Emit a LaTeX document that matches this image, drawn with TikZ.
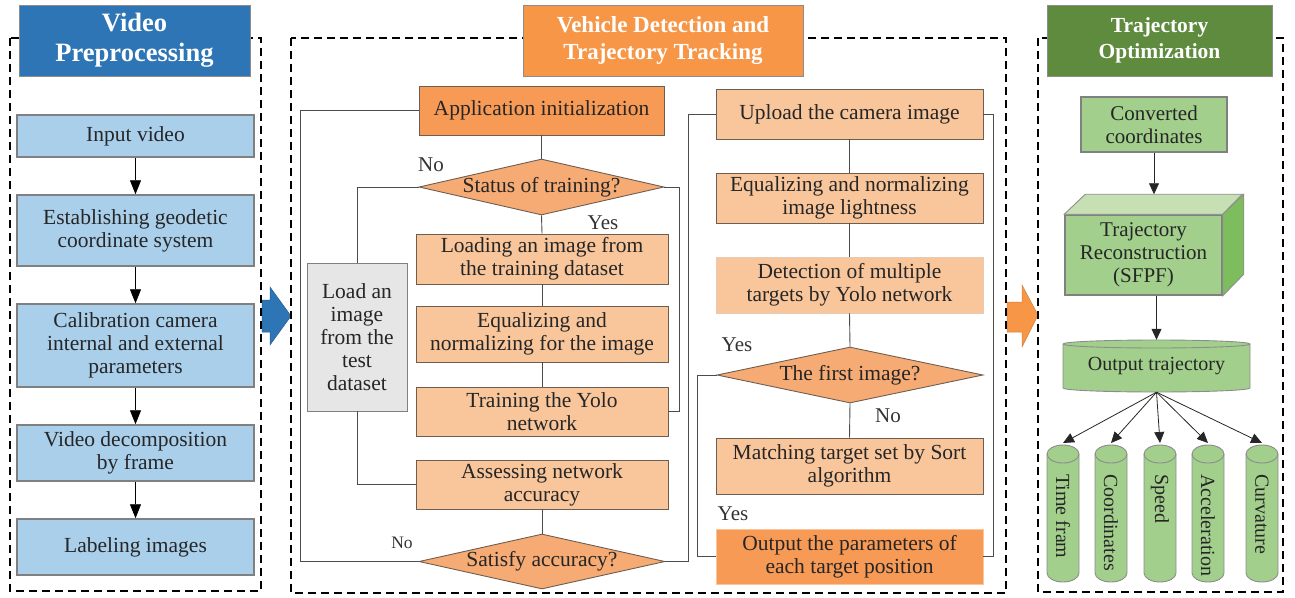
\documentclass[tikz,border=0pt]{standalone}
\usepackage{fontspec}
\setmainfont{Liberation Serif}
\usetikzlibrary{calc,arrows.meta,shapes.geometric}

\definecolor{vpblue}{HTML}{2E75B6}
\definecolor{preblue}{HTML}{AACFEB}
\definecolor{titleorange}{HTML}{F79646}
\definecolor{darkorange}{HTML}{F79A55}
\definecolor{midorange}{HTML}{F5AB73}
\definecolor{lightorange}{HTML}{F9C69C}
\definecolor{boxline}{HTML}{6E5E52}
\definecolor{testgray}{HTML}{E6E6E6}
\definecolor{optgreen}{HTML}{5E8B3E}
\definecolor{lightgreen}{HTML}{A2CF8C}
\definecolor{topgreen}{HTML}{C6E0B4}
\definecolor{sidegreen}{HTML}{7DBD5E}

\tikzset{
	panel/.style={draw=black, line width=1.8pt, dash pattern=on 8pt off 5pt},
	titlebox/.style={draw=black!45, line width=1pt, text=white, align=center, inner sep=0pt, minimum height=71pt},
	prebox/.style={draw=black!50, line width=1.5pt, fill=preblue, minimum width=237pt, inner sep=0pt, align=center, text=black!85, font=\fontsize{21.5}{23}\selectfont},
	flowbox/.style={draw=boxline, line width=0.9pt, fill=lightorange, inner sep=0pt, align=center, text=black!85, font=\fontsize{21.5}{23}\selectfont},
	decision/.style={diamond, draw=boxline, line width=0.9pt, fill=midorange, inner sep=0pt},
	dtext/.style={text=black!85, font=\fontsize{21.5}{23}\selectfont},
	yesno/.style={text=black!80, font=\fontsize{21}{23}\selectfont},
	link/.style={draw=black!70, line width=0.9pt},
	arr/.style={-{Triangle[length=14pt,width=11pt]}, line width=0.9pt},
	rarr/.style={-{Triangle[length=11pt,width=10pt]}, line width=0.8pt, black!85},
	greenbox/.style={draw=black!50, line width=1.5pt, fill=lightgreen, inner sep=0pt, align=center, text=black!85, font=\fontsize{21}{23}\selectfont},
	cylbody/.style={draw=black!45, line width=0.9pt, fill=lightgreen},
	cyltext/.style={rotate=-90, anchor=west, inner sep=0pt, text=black!85, font=\fontsize{20}{22}\selectfont}
}

% upright cylinder: x centre, name of its top, text
\newcommand{\vcyl}[3]{%
	\draw[cylbody] (#1-16,454) -- (#1-16,573) arc (180:0:16 and 9) -- (#1+16,454) arc (360:180:16 and 9) -- cycle;
	\draw[cylbody] (#1-16,454) arc (180:0:16 and 9);
	\coordinate (#2) at (#1,443);
	\node[cyltext] at (#1,474) {#3};
}

\begin{document}
\begin{tikzpicture}[x=1pt,y=-1pt]
		%%%%% START %%%%%
		\useasboundingbox (0,0) rectangle (1295,597);
		
		% block arrows between the stages
		\draw[fill=vpblue, draw=vpblue!80!black, line width=0.5pt] (262,300) -- (270,300) -- (270,287) -- (291,316) -- (270,345) -- (270,332) -- (262,332) -- cycle;
		\draw[fill=titleorange, draw=titleorange!85!black, line width=0.5pt] (1007,302) -- (1022,302) -- (1022,285) -- (1038,315) -- (1022,347) -- (1022,332) -- (1007,332) -- cycle;
		
		\draw[panel] (10,38) rectangle (261,591);
		\draw[panel] (291,38) rectangle (1006,593);
		\draw[panel] (1038,38) rectangle (1283,592);
		
		\node[titlebox, fill=vpblue, minimum width=231pt, font=\bfseries\fontsize{26.5}{30}\selectfont] (vptitle) at (134.5,40.5) {Video\\Preprocessing};
		\node[titlebox, fill=titleorange, minimum width=280pt, font=\bfseries\fontsize{23}{27}\selectfont] (dttitle) at (663,40.5) {Vehicle Detection and\\Trajectory Tracking};
		\node[titlebox, fill=optgreen, minimum width=225pt, font=\bfseries\fontsize{21.5}{26}\selectfont] (optitle) at (1159.5,40.5) {Trajectory\\Optimization};
		
		%%%%% VIDEO PREPROCESSING %%%%%
		\node[prebox, minimum height=42pt] (input) at (135.5,136) {Input video};
		\node[prebox, minimum height=71pt] (geodetic) at (135.5,230.5) {Establishing geodetic\\coordinate system};
		\node[prebox, minimum height=83pt] (calib) at (135.5,345.5) {Calibration camera\\internal and external\\parameters};
		\node[prebox, minimum height=56pt] (decomp) at (135.5,453) {Video decomposition\\by frame};
		\node[prebox, minimum height=56pt] (labeling) at (135.5,547) {Labeling images};
		
		\draw[arr] (input) -- (geodetic);
		\draw[arr] (geodetic) -- (calib);
		\draw[arr] (calib) -- (decomp);
		\draw[arr] (decomp) -- (labeling);
		
		%%%%% TRAINING %%%%%
		\node[flowbox, fill=darkorange, minimum width=245pt, minimum height=49pt] (appinit) at (541.5,110.5) {Application initialization};
		\node[decision, minimum width=245pt, minimum height=56pt] (status) at (541.5,187) {};
		\node[dtext] at (status) {Status of training?};
		\node[flowbox, minimum width=252pt, minimum height=50pt] (loading) at (542,259) {Loading an image from\\the training dataset};
		\node[flowbox, minimum width=252pt, minimum height=56pt] (equalimg) at (542,334) {Equalizing and\\normalizing for the image};
		\node[flowbox, minimum width=252pt, minimum height=49pt] (training) at (542,411.5) {Training the Yolo\\network};
		\node[flowbox, minimum width=252pt, minimum height=49pt] (assess) at (542,484.5) {Assessing network\\accuracy};
		\node[decision, minimum width=246pt, minimum height=55pt] (satisfy) at (542,561.5) {};
		\node[dtext] at (satisfy) {Satisfy accuracy?};
		\node[flowbox, fill=testgray, draw=black!50, minimum width=100pt, minimum height=148pt] (testset) at (357,337) {Load an\\image\\from the\\test\\dataset};
		
		\node[yesno] (nostatus) at (431,165) {No};
		\node[yesno] (yesstatus) at (603,223) {Yes};
		\node[yesno, font=\fontsize{17.5}{20}\selectfont] (nosatisfy) at (402,543) {No};
		
		\coordinate (loopL) at (300,0);
		\coordinate (loopM) at (688,0);
		\coordinate (loopR) at (993,0);
		
		\draw[link] (appinit.south) -- (status.north);
		\draw[link] (status.south) -- (loading.north);
		\draw[link] (loading.south) -- (equalimg.north);
		\draw[link] (equalimg.south) -- (training.north);
		\draw[link] (assess.south) -- (satisfy.north);
		\draw[link] (status.west) -| (testset.north);
		\draw[link] (status.east) -- ++(15,0) |- (training.east);
		\draw[link] (testset.south) |- (assess.west);
		\draw[link] (appinit.west) -| (loopL |- satisfy.west) -- (satisfy.west);
		
		%%%%% TRACKING %%%%%
		\node[flowbox, minimum width=267pt, minimum height=50pt] (upload) at (849.5,114) {Upload the camera image};
		\node[flowbox, minimum width=267pt, minimum height=50pt] (lightness) at (849.5,198) {Equalizing and normalizing\\image lightness};
		\node[flowbox, draw=lightorange!85!black!60, minimum width=267pt, minimum height=56pt] (detection) at (849.5,285) {Detection of multiple\\targets by Yolo network};
		\node[decision, minimum width=266pt, minimum height=56pt] (first) at (850,375) {};
		\node[dtext] at (first) {The first image?};
		\node[flowbox, minimum width=267pt, minimum height=56pt] (matching) at (849.5,466) {Matching target set by Sort\\algorithm};
		\node[flowbox, fill=darkorange, draw=lightorange, minimum width=267pt, minimum height=55pt] (output) at (849.5,556.5) {Output the parameters of\\each target position};
		
		\node[yesno] (yesfirst) at (737,345) {Yes};
		\node[yesno] (nofirst) at (888,416) {No};
		\node[yesno] (yesoutput) at (733,514) {Yes};
		
		\draw[link] (satisfy.east) -- (satisfy.east -| loopM) |- (upload.west);
		\draw[link] (upload.south) -- (lightness.north);
		\draw[link] (lightness.south) -- (detection.north);
		\draw[link] (detection.south) -- (first.north);
		\draw[link] (first.south) -- (matching.north);
		\draw[link] (first.west) -- ++(-19,0) |- (output.west);
		\draw[link] (upload.east) -- (upload.east -| loopR) |- (output.east);
		
		%%%%% OPTIMIZATION %%%%%
		\node[greenbox, minimum width=146pt, minimum height=55pt] (converted) at (1154,124.5) {Converted\\coordinates};
		\node[greenbox, minimum width=157pt, minimum height=80pt] (recon) at (1143.5,255) {Trajectory\\Reconstruction\\(SFPF)};
		\draw[draw=black!45, line width=0.9pt, fill=topgreen] (recon.north west) -- ++(21,-20) -- ++(157,0) -- (recon.north east) -- cycle;
		\draw[draw=black!45, line width=0.9pt, fill=sidegreen] (recon.north east) -- ++(21,-20) -- ++(0,80) -- (recon.south east) -- cycle;
		
		\draw[cylbody] (1063,344) -- (1063,388) arc (180:0:93.5 and 4) -- (1250,344) arc (360:180:93.5 and 4) -- cycle;
		\draw[cylbody] (1063,344) arc (180:0:93.5 and 4);
		\node[inner sep=0pt, minimum width=187pt, minimum height=52pt, text=black!85, font=\fontsize{20}{22}\selectfont] (outtraj) at (1156.5,366) {Output trajectory};
		
		\vcyl{1063}{timefr}{Time fram}
		\vcyl{1111}{coords}{Coordinates}
		\vcyl{1160}{speed}{Speed}
		\vcyl{1208}{accel}{Acceleration}
		\vcyl{1262}{curv}{Curvature}
		
		\draw[rarr] (converted.south) -- ($(recon.north)+(10.5,-20)$);
		\draw[rarr] (recon.south -| outtraj.north) -- (outtraj.north);
		\draw[rarr] (outtraj.south) -- (timefr);
		\draw[rarr] (outtraj.south) -- (coords);
		\draw[rarr] (outtraj.south) -- (speed);
		\draw[rarr] (outtraj.south) -- (accel);
		\draw[rarr] (outtraj.south) -- (curv);
		
		%%%%% END %%%%%
\end{tikzpicture}
\end{document}
